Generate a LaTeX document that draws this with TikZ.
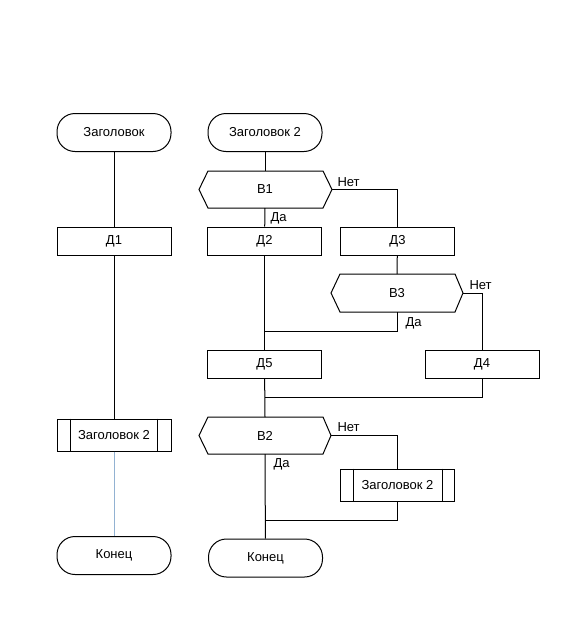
\documentclass[tikz,border=0pt]{standalone}
\usepackage{fontspec}
\setmainfont{Liberation Sans}
\usetikzlibrary{calc}
\definecolor{bluelink}{HTML}{92B2D2}
\begin{document}
\begin{tikzpicture}[x=1pt,y=-1pt,line width=1pt,
  font=\fontsize{13}{15}\selectfont,
  term/.style={draw,rounded corners=18pt,minimum width=114pt,minimum height=38pt,inner sep=0pt},
  act/.style={draw,minimum width=114pt,minimum height=28pt,inner sep=0pt},
  sub/.style={draw,minimum width=114pt,minimum height=32pt,inner sep=0pt},
  lbl/.style={inner sep=0pt,anchor=west}]
\useasboundingbox (0,0) rectangle (567,643);
% left column
\node[term] (t1) at (114,132.5) {Заголовок};
\node[act] (d1) at (114,241) {Д1};
\node[sub] (s1) at (114,435) {Заголовок 2};
\draw (s1.north west)++(14,0) -- ++(0,32);
\draw (s1.north east)++(-14,0) -- ++(0,32);
\node[term] (e1) at (114,555.5) {Конец};
\draw (t1) -- (d1);
\draw (d1) -- (s1);
\draw[bluelink] (s1) -- (e1);
% right part
\node[term] (t2) at (265,132.5) {Заголовок 2};
% B1
\coordinate (b1w) at (199,189.5);
\coordinate (b1e) at (332,189.5);
\coordinate (b1n) at (265,171);
\coordinate (b1s) at (265,208);
\draw (208,171) -- (323,171) -- (b1e) -- (323,208) -- (208,208) -- (b1w) -- cycle;
\node (b1) at (265,189.5) {В1};
\node[act] (d2) at (264.5,241) {Д2};
\node[act] (d3) at (397.5,241) {Д3};
\draw (t2) -- (b1n);
\draw (b1s) -- (d2);
\draw (b1e) -| (d3);
\node[lbl] at (270,218) {Да};
\node[lbl] at (337,182) {Нет};
% B3
\coordinate (b3w) at (331,293);
\coordinate (b3e) at (463,293);
\coordinate (b3n) at (397,274);
\coordinate (b3s) at (397,312);
\draw (340,274) -- (455,274) -- (b3e) -- (455,312) -- (340,312) -- (b3w) -- cycle;
\node (b3) at (397,293) {В3};
\draw (d3) -- (b3n);
\node[act] (d5) at (264.5,364) {Д5};
\node[act] (d4) at (482,364) {Д4};
\draw (b3e) -| (d4);
\node[lbl] at (469,285) {Нет};
\coordinate (j1) at (265,331);
\draw (b3s) |- (j1);
\node[lbl] at (405,323) {Да};
\draw (d2) -- (d5);
% B2
\coordinate (b2w) at (199,435.5);
\coordinate (b2e) at (331,435.5);
\coordinate (b2n) at (265,417);
\coordinate (b2s) at (265,454);
\draw (208,417) -- (323,417) -- (b2e) -- (323,454) -- (208,454) -- (b2w) -- cycle;
\node (b2) at (265,435.5) {В2};
\coordinate (j2) at (265,397);
\draw (d5) -- (b2n);
\draw (d4) |- (j2);
\node[sub] (s2) at (397.5,485) {Заголовок 2};
\draw (s2.north west)++(13,0) -- ++(0,32);
\draw (s2.north east)++(-13,0) -- ++(0,32);
\draw (b2e) -| (s2);
\node[lbl] at (337,427) {Нет};
\node[term] (e2) at (265.5,558) {Конец};
\draw (b2s) -- (e2);
\coordinate (j3) at (265,520);
\draw (s2) |- (j3);
\node[lbl] at (273,464) {Да};
\end{tikzpicture}
\end{document}
